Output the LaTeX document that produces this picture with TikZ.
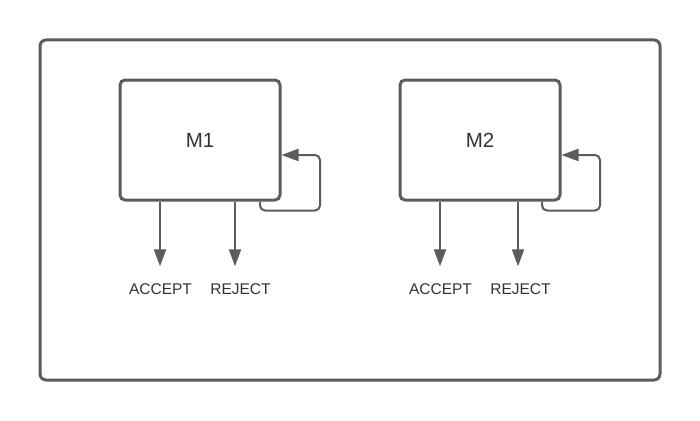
\documentclass[tikz,border=0pt]{standalone}
\usepackage{fontspec}
\setmainfont{Liberation Sans}
\usetikzlibrary{arrows.meta,positioning}
\definecolor{linegray}{HTML}{5C5C5C}
\definecolor{textgray}{HTML}{333333}
\tikzset{
  frame/.style={draw=linegray, line width=3pt, rounded corners=6pt},
  machine/.style={draw=linegray, line width=3pt, rounded corners=5pt, fill=white, minimum width=160pt, minimum height=120pt, inner sep=0pt, text=textgray, font=\fontsize{20.5}{24}\selectfont},
  result/.style={text=textgray, font=\fontsize{15.5}{18}\selectfont, inner sep=0pt},
  flow/.style={draw=linegray, line width=2pt, -{Triangle[length=17pt,width=12pt]}},
  loopback/.style={flow, rounded corners=5pt},
}

\begin{document}
\begin{tikzpicture}[x=1pt, y=-1pt]
                \useasboundingbox (0,0) rectangle (700,420);
                \draw[frame] (40,40) rectangle (660,380); %outer box

                \node[machine] (m1) at (200,140) {M1}; %machine 1
                \node[machine] (m2) at (480,140) {M2}; %machine 2

                \node[result] (acc1) at (160.5,289) {ACCEPT};
                \node[result] (rej1) at (240.5,289) {REJECT};
                \node[result] (acc2) at (440.5,289) {ACCEPT};
                \node[result] (rej2) at (520.5,289) {REJECT};

                \draw[flow] (m1.south -| 160,0) -- ([yshift=17pt]acc1.north -| 160,0);
                \draw[flow] (m1.south -| 235,0) -- ([yshift=17pt]rej1.north -| 235,0);
                \draw[flow] (m2.south -| 440,0) -- ([yshift=17pt]acc2.north -| 440,0);
                \draw[flow] (m2.south -| 518,0) -- ([yshift=17pt]rej2.north -| 518,0);

                \draw[loopback] ([xshift=60pt]m1.south) |- ([xshift=38.5pt,yshift=-9pt]m1.south east) |- ([yshift=-15pt]m1.east);
                \draw[loopback] ([xshift=62pt]m2.south) |- ([xshift=38.5pt,yshift=-9pt]m2.south east) |- ([yshift=-15pt]m2.east);
            \end{tikzpicture}
\end{document}
